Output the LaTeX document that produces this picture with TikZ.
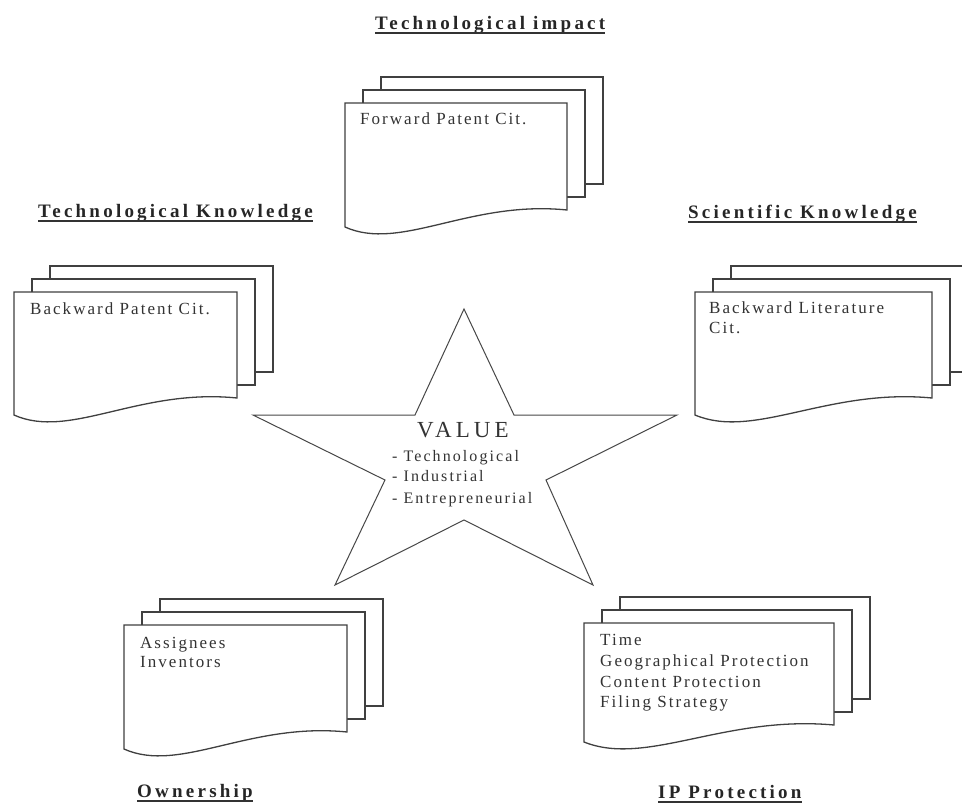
\documentclass[tikz,border=0pt]{standalone}
\usepackage{fontspec}
\setmainfont{Liberation Serif}
\newfontfamily\bodyf[LetterSpace=12]{Liberation Serif}
\newfontfamily\itemf[LetterSpace=13]{Liberation Serif}
\newfontfamily\titlef[LetterSpace=17]{Liberation Serif}
\newfontfamily\valuef[LetterSpace=18]{Liberation Serif}
\newcommand\multidoc[4]{%
  \draw[sheet] (#1+36,#2-26) rectangle (#1+#3+36,#2+#4-26);
  \draw[sheet] (#1+18,#2-13) rectangle (#1+#3+18,#2+#4-13);
  \draw[sheet] (#1,#2) -- (#1+#3,#2) -- (#1+#3,#2+#4)
     .. controls (#1+0.56*#3,#2+#4-10) and (#1+0.25*#3,#2+#4+42) .. (#1,#2+#4+17) -- cycle;
}
\begin{document}
\begin{tikzpicture}[x=1pt,y=-1pt,
  sheet/.style={draw=black!75,line width=1.3pt,fill=white},
  startline/.style={draw=black!72,line width=1pt,line join=miter},
  body/.style={inner sep=0pt,anchor=base west,text=black!80,font=\bodyf\fontsize{17}{20}\selectfont},
  item/.style={inner sep=0pt,anchor=base west,text=black!80,font=\itemf\fontsize{16}{20}\selectfont},
  ttl/.style={inner sep=0pt,anchor=base west,text=black!85,font=\titlef\bfseries\fontsize{19}{22}\selectfont},
  ul/.style={draw=black!80,line width=1.2pt}]
\useasboundingbox (0,0) rectangle (962,803);
\clip (0,0) rectangle (962,803);
\fill[white] (0,0) rectangle (962,803);

% documents
\multidoc{345}{103}{222}{107}
\multidoc{14}{292}{223}{106}
\multidoc{695}{292}{237}{106}
\multidoc{124}{625}{223}{107}
\multidoc{584}{623}{250}{102}

% star
\draw[startline] (464,309) -- (514,415) -- (677,415) -- (546,480) -- (593,585)
  -- (464,520) -- (335,585) -- (385,480) -- (253,415) -- (415,415) -- cycle;

% titles
\node[ttl] (t1) at (375,29) {Technological impact};
\node[ttl] (t2) at (38,217) {Technological Knowledge};
\node[ttl] (t3) at (688,218) {Scientific Knowledge};
\node[ttl] (t4) at (137,797) {Ownership};
\node[ttl] (t5) at (658,798) {IP Protection};
\foreach \t in {t1,t2,t3,t4,t5}
  \draw[ul] ([yshift=-4pt]\t.base west) -- ([yshift=-4pt]\t.base east);

% document texts
\node[body] (f1) at (360,124) {Forward Patent Cit.};
\node[body] (b1) at (30,314) {Backward Patent Cit.};
\node[body] (s1) at (709,313) {Backward Literature};
\node[body] (s2) at (709,333) {Cit.};
\node[body] (o1) at (140,648) {Assignees};
\node[body] (o2) at (140,667) {Inventors};
\node[body] (p1) at (600,645) {Time};
\node[body] (p2) at (600,666) {Geographical Protection};
\node[body] (p3) at (600,687) {Content Protection};
\node[body] (p4) at (600,707) {Filing Strategy};

% star texts
\node[inner sep=0pt,anchor=base,text=black!80,font=\valuef\fontsize{23}{26}\selectfont] (v) at (463,437) {VALUE};
\node[item] (v1) at (392,461) {- Technological};
\node[item] (v2) at (392,481) {- Industrial};
\node[item] (v3) at (392,503) {- Entrepreneurial};
\end{tikzpicture}
\end{document}
